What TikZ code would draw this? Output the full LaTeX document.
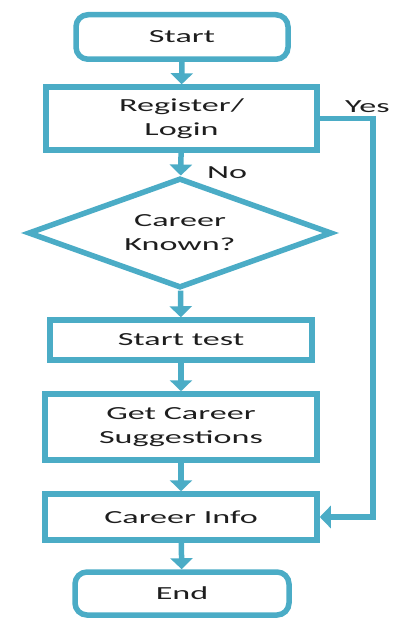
\documentclass[tikz,border=0pt]{standalone}
\usepackage{fontspec}
\usepackage{tikz}
\usetikzlibrary{arrows.meta, shapes.geometric, positioning}
\newfontfamily\flowfont[FakeStretch=1.85]{Carlito}
\definecolor{flowaqua}{RGB}{75,172,198}
\definecolor{flowtext}{RGB}{30,30,30}

\begin{document}
\begin{tikzpicture}[x=1bp, y=-1bp,
    box/.style={draw=flowaqua, line width=5.5bp, rectangle, inner sep=0pt,
        align=center, text=flowtext, font=\flowfont\fontsize{18.5}{24}\selectfont},
    terminal/.style={box, rounded corners=12bp},
    decision/.style={box, diamond, aspect=2.76},
    label/.style={text=flowtext, inner sep=0pt, font=\flowfont\fontsize{18.5}{24}\selectfont},
    flow/.style={draw=flowaqua, line width=5.5bp, -{Triangle[width=22bp, length=11bp]}}]
    \useasboundingbox (0,0) rectangle (395,618);

    % Steps
    \node[terminal, minimum width=212bp, minimum height=44.5bp] (start) at (182, 37) {Start};
    \node[box, minimum width=271bp, minimum height=63bp] (reg) at (181.5, 118.5) {Register/\\Login};
    \node[decision, minimum width=304bp, minimum height=110bp] (known) at (180, 233) {Career\\Known?};
    \node[box, minimum width=262bp, minimum height=40bp] (test) at (181, 340) {Start test};
    \node[box, minimum width=272bp, minimum height=66bp] (suggest) at (181, 427) {Get Career\\Suggestions};
    \node[box, minimum width=272bp, minimum height=46bp] (info) at (181, 517) {Career Info};
    \node[terminal, minimum width=214bp, minimum height=43bp] (end) at (182, 593.5) {End};

    % Main flow
    \draw[flow] (start) -- (reg);
    \draw[flow] (reg) -- (known);
    \draw[flow] (known) -- (test);
    \draw[flow] (test) -- (suggest);
    \draw[flow] (suggest) -- (info);
    \draw[flow] (info) -- (end);

    % Known career goes straight to the info
    \coordinate (yescol) at (373, 0);
    \draw[flow] (reg.east) -- (reg.east -| yescol) |- (info.east);

    % Branch labels
    \node[label, anchor=base west] (yes) at (345, 113) {Yes};
    \node[label, anchor=base west] (no) at (207, 179) {No};
\end{tikzpicture}
\end{document}
